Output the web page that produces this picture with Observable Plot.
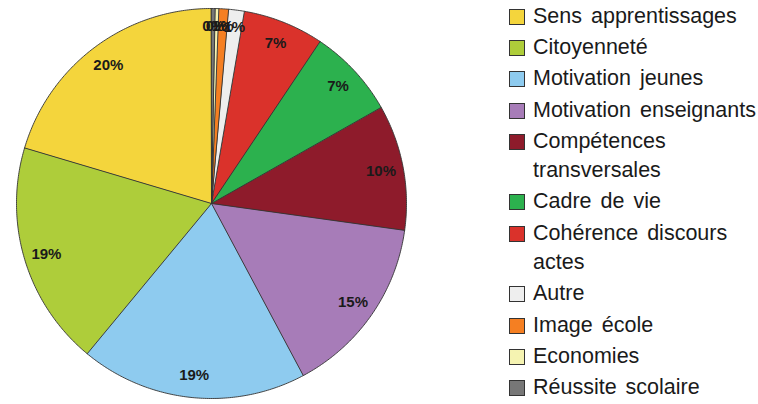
<!DOCTYPE html>
<html>
<head>
<meta charset="utf-8">
<script src="https://cdn.jsdelivr.net/npm/d3@7"></script>
<script src="https://cdn.jsdelivr.net/npm/@observablehq/plot@0.6"></script>
<style>
  html, body { margin: 0; padding: 0; background: #fff; }
  #wrap { position: relative; width: 758px; height: 404px; font-family: "Liberation Sans", Arial, sans-serif; }
  #legend { position: absolute; left: 509px; top: 2px; width: 249px; }
  .item { display: flex; align-items: flex-start; margin-bottom: 1.7px; }
  .sw { width: 14px; height: 14px; border: 1px solid #333; margin-top: 7px; flex: none; }
  .lab { margin-left: 8px; font-size: 21.5px; line-height: 29.5px; color: #1a1a1a; width: 228px; word-spacing: 3px; }
</style>
</head>
<body>
<div id="wrap"><div id="chart"></div><div id="legend"></div></div>
<script>
const categories = ["Sens apprentissages","Citoyenneté","Motivation jeunes","Motivation enseignants","Compétences transversales","Cadre de vie","Cohérence discours actes","Autre","Image école","Economies","Réussite scolaire"];
const values = [20.4, 18.6, 18.8, 15.0, 10.4, 7.4, 6.7, 1.3, 0.8, 0.3, 0.3];
const colors = ["#f4d53c","#aecd3a","#8ecbef","#a77cb8","#8e1b2b","#2cb14e","#da322b","#eeeeee","#f57f22","#f5f3b1","#777777"];

const data = categories.map((name, i) => ({name, value: values[i]}));
const total = d3.sum(values);
// counter-clockwise from 12 o'clock
const arcs = d3.pie().sort(null).value(d => d.value).startAngle(0).endAngle(-2 * Math.PI)(data);

const verts = [];
for (const a of arcs) {
  const n = Math.max(2, Math.ceil(Math.abs(a.endAngle - a.startAngle) / 0.01));
  verts.push({name: a.data.name, x: 0, y: 0});
  for (let k = 0; k <= n; k++) {
    const t = a.startAngle + (a.endAngle - a.startAngle) * k / n;
    verts.push({name: a.data.name, x: Math.sin(t), y: Math.cos(t)});
  }
}
const labels = arcs.map(a => {
  const m = (a.startAngle + a.endAngle) / 2;
  const r = a.data.value < 2 ? 0.91 : 0.885;
  return {name: a.data.name, x: r * Math.sin(m), y: r * Math.cos(m), text: Math.round(a.data.value / total * 100) + "%"};
});

const plot = Plot.plot({
  width: 758,
  height: 404,
  marginLeft: 16,
  marginRight: 758 - 16 - 390,
  marginTop: 8,
  marginBottom: 404 - 8 - 390,
  x: {domain: [-1, 1], axis: null},
  y: {domain: [-1, 1], axis: null},
  color: {domain: categories, range: colors},
  style: {fontFamily: "Liberation Sans, Arial, sans-serif", background: "transparent"},
  marks: [
    Plot.line(verts, {x: "x", y: "y", z: "name", fill: "name", stroke: "#333", strokeWidth: 0.9, curve: "linear-closed"}),
    Plot.text(labels, {x: "x", y: "y", text: "text", fontSize: 15, fontWeight: "bold", fill: "#1a1a1a"})
  ]
});
document.getElementById("chart").appendChild(plot);

const lg = document.getElementById("legend");
categories.forEach((c, i) => {
  const it = document.createElement("div");
  it.className = "item";
  const sw = document.createElement("div");
  sw.className = "sw";
  sw.style.background = colors[i];
  const lb = document.createElement("div");
  lb.className = "lab";
  lb.textContent = c;
  it.appendChild(sw); it.appendChild(lb);
  lg.appendChild(it);
});
</script>
</body>
</html>
